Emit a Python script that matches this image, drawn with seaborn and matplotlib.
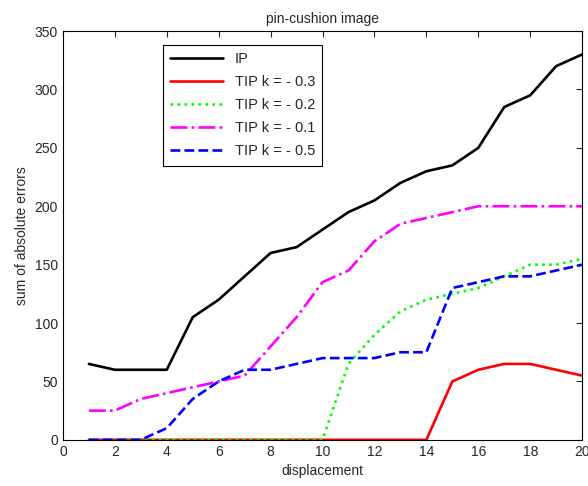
import matplotlib
matplotlib.use("Agg")
import matplotlib.pyplot as plt
import seaborn as sns
import pandas as pd

# values
displacement = list(range(1, 21))
ip      = [65, 60, 60, 60, 105, 120, 140, 160, 165, 180, 195, 205, 220, 230, 235, 250, 285, 295, 320, 330]
tip_m03 = [0, 0, 0, 0, 0, 0, 0, 0, 0, 0, 0, 0, 0, 0, 50, 60, 65, 65, 60, 55]
tip_m02 = [0, 0, 0, 0, 0, 0, 0, 0, 0, 0, 65, 90, 110, 120, 125, 130, 140, 150, 150, 155]
tip_m01 = [25, 25, 35, 40, 45, 50, 55, 80, 105, 135, 145, 170, 185, 190, 195, 200, 200, 200, 200, 200]
tip_m05 = [0, 0, 0, 10, 35, 50, 60, 60, 65, 70, 70, 70, 75, 75, 130, 135, 140, 140, 145, 150]

labels = ["IP", "TIP k = - 0.3", "TIP k = - 0.2", "TIP k = - 0.1", "TIP k = - 0.5"]
series = [ip, tip_m03, tip_m02, tip_m01, tip_m05]
colors = ["black", "red", "#00ff00", "magenta", "blue"]
styles = ["-", "-", ":", "-.", "--"]

sns.set_style("white")
plt.rcParams['font.family'] = ['Liberation Sans', 'DejaVu Sans']

fig = plt.figure(figsize=(5.88, 4.86), dpi=100)
ax = fig.add_axes([0.107, 0.095, 0.883, 0.841])

for lab, vals, c, ls in zip(labels, series, colors, styles):
    df = pd.DataFrame({"x": displacement, "y": vals})
    sns.lineplot(data=df, x="x", y="y", ax=ax, color=c, linestyle=ls,
                 linewidth=1.9, label=lab)

ax.set_xlim(0, 20)
ax.set_ylim(0, 350)
ax.set_xticks(range(0, 21, 2))
ax.set_yticks(range(0, 351, 50))
ax.tick_params(direction="in", top=True, right=True, labelsize=10, length=4)
for s in ax.spines.values():
    s.set_color("black")
    s.set_linewidth(0.8)

ax.set_title("pin-cushion image", fontsize=10)
ax.set_xlabel("displacement", fontsize=10)
ax.set_ylabel("sum of absolute errors", fontsize=10)

leg = ax.legend(loc="upper left", bbox_to_anchor=(0.193, 0.966), fontsize=10.5,
                frameon=True, fancybox=False, edgecolor="black", framealpha=1,
                handlelength=3.6, borderpad=0.5, labelspacing=0.62,
                borderaxespad=0)
leg.get_frame().set_linewidth(0.8)

fig.savefig("out.png", dpi=100)
